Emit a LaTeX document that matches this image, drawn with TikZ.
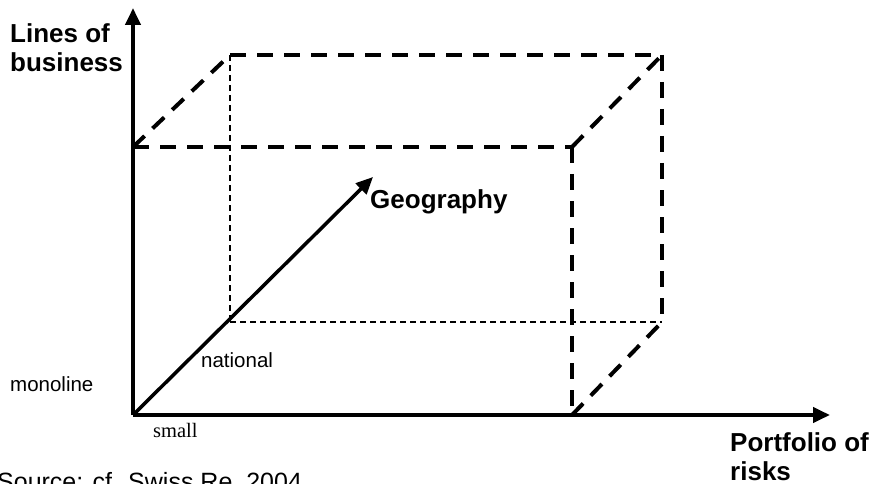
\documentclass[tikz,border=0pt]{standalone}
\usepackage{fontspec}
\setmainfont{Liberation Sans}
\newfontfamily\timesfont{Liberation Serif}
\usetikzlibrary{arrows.meta}
\begin{document}
\begin{tikzpicture}[x=1pt,y=-1pt,>={Triangle[length=17pt,width=15pt]},
  axis/.style={line width=4pt},
  bigdash/.style={line width=4pt,dash pattern=on 16pt off 11pt},
  smalldash/.style={line width=1.3pt,dash pattern=on 6pt off 4pt},
  bold/.style={inner sep=0pt,font=\fontsize{26}{29}\selectfont\bfseries,align=left},
  plain/.style={inner sep=0pt,font=\fontsize{20.5}{24}\selectfont}]
\useasboundingbox (0,0) rectangle (873,484);
% corners of the box
\coordinate (O) at (133,415);
\coordinate (A) at (133,147);
\coordinate (B) at (572,147);
\coordinate (C) at (572,415);
\coordinate (D) at (230,55);
\coordinate (E) at (662,55);
\coordinate (G) at (662,322);
\coordinate (H) at (230,322);
\coordinate (ytip) at (133,8);
\coordinate (xtip) at (830,415);
\coordinate (geotip) at (373,177);
% labels
\node[bold,anchor=base west] (lob) at (10,72) {Lines of\\business};
\node[bold,anchor=base west] (geo) at (370,208) {Geography};
\node[bold,anchor=base west] (por) at (730,480) {Portfolio of\\risks};
\node[plain,anchor=base west] (nat) at (201,367) {national};
\node[plain,anchor=base west] (mono) at (10,391) {monoline};
\node[plain,anchor=base west,font=\fontsize{20.5}{24}\timesfont] (small) at (153,437) {small};
\node[inner sep=0pt,anchor=base west,font=\fontsize{25}{30}\selectfont] (src) at (-3,490) {Source: cf. Swiss Re, 2004};
% box
\draw[smalldash] (D) -- (H);
\draw[smalldash] (H) -- (G);
\draw[bigdash] (A) -- (B);
\draw[bigdash] (B) -- (C);
\draw[bigdash] (A) -- (D);
\draw[bigdash] (D) -- (E);
\draw[bigdash] (B) -- (E);
\draw[bigdash] (E) -- (G);
\draw[bigdash] (C) -- (G);
% axes
\draw[axis,->] (O) -- (ytip);
\draw[axis,->] (O) -- (xtip);
\draw[line width=3.5pt,->] (O) -- (geotip);
\end{tikzpicture}
\end{document}
